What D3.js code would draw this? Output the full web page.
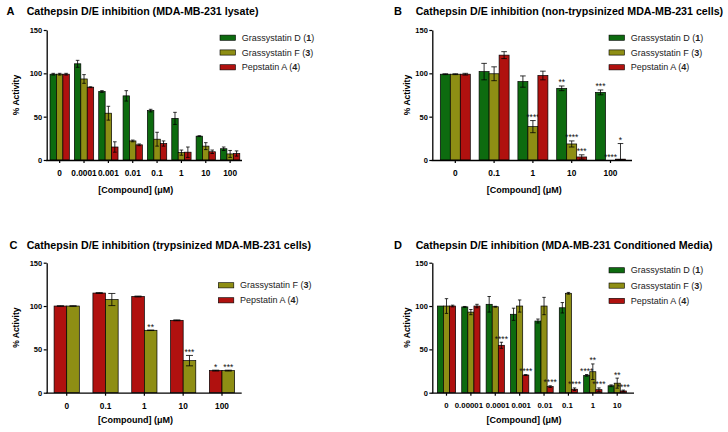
<!DOCTYPE html>
<html><head><meta charset="utf-8">
<script src="https://cdn.jsdelivr.net/npm/d3@7"></script>
<style>body{margin:0;background:#fff} svg{display:block;font-family:"Liberation Sans",Arial,sans-serif}</style>
</head><body><svg id="c" width="728" height="432"></svg>
<script>
// ---------- data ----------
const seriesKeys = ["GD", "GF", "PA"];
const seriesNames = ["Grassystatin D", "Grassystatin F", "Pepstatin A"];
const seriesNums = ["1", "3", "4"];
const yTicks = [0, 50, 100, 150];

// Panel A: lysate
const catsA = ["0", "0.0001", "0.001", "0.01", "0.1", "1", "10", "100"];
const gdA = [99, 111, 79, 74, 57, 48, 27.5, 13];
const gdAerr = [1, 4, 1, 6, 1.5, 7, 0.5, 2];
const gfA = [99, 93.5, 54, 22, 24, 8.5, 16, 7];
const gfAerr = [1, 5, 8, 1, 8, 3, 4, 4];
const paA = [99, 84, 15, 17.5, 19, 9, 9.5, 7.5];
const paAerr = [1, 0.5, 6, 1, 3, 6, 2, 3];

// Panel B: non-trypsinized cells
const catsB = ["0", "0.1", "1", "10", "100"];
const gdB = [99, 102, 90.5, 82.7, 78];
const gdBerr = [0.5, 9.5, 6.5, 2.7, 2.8];
const gfB = [99, 99.5, 38.5, 18.5, 0];
const gfBerr = [0.5, 8, 7, 3.5, 0];
const paB = [99, 121, 97.5, 3.5, 1];
const paBerr = [1, 4, 5, 2.5, 18];
const gdBstars = ["", "", "", "**", "***"];
const gfBstars = ["", "", "****", "****", "****"];
const paBstars = ["", "", "", "***", "*"];

// Panel C: trypsinized cells
const catsC = ["0", "0.1", "1", "10", "100"];
const paC = [100, 115, 111, 83.5, 25.5];
const paCerr = [0.3, 0.5, 0.5, 0.5, 0.5];
const gfC = [100, 107.5, 72, 37, 25.5];
const gfCerr = [0.3, 7, 0.3, 6, 0.5];
const paCstars = ["", "", "", "", "*"];
const gfCstars = ["", "", "**", "***", "***"];

// Panel D: conditioned media
const catsD = ["0", "0.00001", "0.0001", "0.001", "0.01", "0.1", "1", "10"];
const gdD = [100, 99, 102, 90.5, 82.7, 98, 20, 8];
const gdDerr = [0, 0.5, 9, 7, 2.3, 6, 1, 1];
const gfD = [100, 93, 99.2, 100, 100, 114.7, 24.2, 11];
const gfDerr = [8.5, 3, 0.5, 7, 10, 1, 9, 5.8];
const paD = [100, 100, 54.7, 20.4, 7, 4, 3.5, 2];
const paDerr = [1, 2, 3.5, 0.5, 1, 1.5, 2, 1];
const gdDstars = ["", "", "", "", "", "", "****", ""];
const gfDstars = ["", "", "", "", "", "", "**", "**"];
const paDstars = ["", "", "****", "****", "****", "****", "****", "****"];

// ---------- styles ----------
const colors = {GD: "#0d6b0f", GF: "#8e8e14", PA: "#b0110f"};
const FONT = '"Liberation Sans", Arial, sans-serif';
const svg = d3.select("#c");

function drawPanel(p) {
  const L = p.L;
  const g = svg.append("g");
  const x = d3.scaleBand().domain(p.cats).range([L.x0, L.x1]).paddingInner(L.pi).paddingOuter(L.pi / 2);
  const y = d3.scaleLinear().domain([0, 150]).range([L.yb, L.yt]);
  const xs = d3.scaleBand().domain(p.series.map(s => s.key)).range([0, x.bandwidth()]);
  const bw = xs.bandwidth();

  p.series.forEach(s => {
    const data = p.cats.map((c, i) => ({c, v: s.vals[i], e: s.errs[i], st: s.stars ? s.stars[i] : ""}));
    const gg = g.append("g");
    gg.selectAll("rect").data(data).join("rect")
      .attr("x", d => x(d.c) + xs(s.key)).attr("width", bw)
      .attr("y", d => y(d.v)).attr("height", d => y(0) - y(d.v))
      .attr("fill", colors[s.key]).attr("stroke", "#000").attr("stroke-width", 0.7);
    const eb = gg.selectAll("g.eb").data(data.filter(d => d.e > 0)).join("g").attr("class", "eb")
      .attr("stroke", "#000").attr("stroke-width", 0.8);
    const cx = d => x(d.c) + xs(s.key) + bw / 2;
    eb.append("line").attr("x1", cx).attr("x2", cx)
      .attr("y1", d => y(Math.max(0, d.v - d.e))).attr("y2", d => y(d.v + d.e));
    eb.append("line").attr("x1", d => cx(d) - bw * 0.28).attr("x2", d => cx(d) + bw * 0.28)
      .attr("y1", d => y(d.v + d.e)).attr("y2", d => y(d.v + d.e));
    eb.append("line").attr("x1", d => cx(d) - bw * 0.28).attr("x2", d => cx(d) + bw * 0.28)
      .attr("y1", d => y(Math.max(0, d.v - d.e))).attr("y2", d => y(Math.max(0, d.v - d.e)));
    gg.selectAll("text.st").data(data.filter(d => d.st)).join("text").attr("class", "st")
      .attr("x", cx).attr("y", d => y(d.v + d.e) - 0.5)
      .attr("text-anchor", "middle").attr("font-size", 8.5).attr("font-family", FONT)
      .attr("fill", "#111").text(d => d.st);
  });

  // y axis
  const ya = g.append("g").attr("transform", `translate(${L.ax},0)`)
    .call(d3.axisLeft(y).tickValues(yTicks).tickSize(3).tickSizeOuter(0).tickPadding(1.5));
  ya.attr("font-family", FONT).attr("font-size", 7.5).attr("font-weight", "bold");
  ya.select(".domain").attr("stroke-width", 1.3);
  ya.selectAll(".tick line").attr("stroke-width", 1.2);

  // x axis
  const xa = g.append("g").attr("transform", `translate(0,${L.yb})`)
    .call(d3.axisBottom(x).tickSize(3).tickPadding(7));
  xa.attr("font-family", FONT).attr("font-size", L.xfs || 8.3).attr("font-weight", "bold");
  xa.select(".domain").remove();
  xa.selectAll(".tick line").attr("stroke-width", 1.2);
  if (L.xdx) xa.selectAll(".tick text").attr("dx", (d, i) => L.xdx[i] || 0);
  g.append("line").attr("x1", L.ax - 0.6).attr("x2", L.xe).attr("y1", L.yb + 0.5).attr("y2", L.yb + 0.5)
    .attr("stroke", "#000").attr("stroke-width", 1.3);

  // axis titles
  g.append("text").attr("transform", `translate(${L.ylx},${L.ylc}) rotate(-90)`)
    .attr("text-anchor", "middle").attr("font-family", FONT).attr("font-size", 8.5).attr("font-weight", "bold")
    .text("% Activity");
  g.append("text").attr("x", L.xtc).attr("y", L.xty).attr("text-anchor", "middle")
    .attr("font-family", FONT).attr("font-size", 9).attr("font-weight", "bold")
    .text("[Compound] (\u03BCM)");

  // title
  g.append("text").attr("x", L.lettx).attr("y", L.ty).attr("font-family", FONT).attr("font-size", 11)
    .attr("font-weight", "bold").text(p.letter);
  g.append("text").attr("x", L.tx).attr("y", L.ty).attr("font-family", FONT).attr("font-size", 10.65)
    .attr("font-weight", "bold").text(p.title);

  // legend
  p.legend.forEach((k, i) => {
    const idx = seriesKeys.indexOf(k);
    const yy = L.ly + i * L.ldy;
    g.append("rect").attr("x", L.lx).attr("y", yy - 2.6).attr("width", 15.5).attr("height", 5.2)
      .attr("fill", colors[k]).attr("stroke", "#000").attr("stroke-width", 0.6);
    const t = g.append("text").attr("x", L.lx + 21.7).attr("y", yy + 3.1)
      .attr("font-family", FONT).attr("font-size", 9).attr("fill", "#222");
    t.append("tspan").text(seriesNames[idx] + " (");
    t.append("tspan").attr("font-weight", "bold").text(seriesNums[idx]);
    t.append("tspan").text(")");
  });
}

drawPanel({
  letter: "A", title: "Cathepsin D/E inhibition (MDA-MB-231 lysate)", cats: catsA,
  series: [
    {key: "GD", vals: gdA, errs: gdAerr},
    {key: "GF", vals: gfA, errs: gfAerr},
    {key: "PA", vals: paA, errs: paAerr}],
  legend: ["GD", "GF", "PA"],
  L: {x0: 47.5, x1: 242.3, pi: 0.207, yb: 160, yt: 30, ax: 46.7, xe: 242,
      ylx: 18.5, ylc: 95, xtc: 135.8, xty: 192.5, lettx: 6.5, tx: 26.7, ty: 14.5,
      lx: 220, ly: 37.7, ldy: 14.8}
});
drawPanel({
  letter: "B", title: "Cathepsin D/E inhibition (non-trypsinized MDA-MB-231 cells)", cats: catsB,
  series: [
    {key: "GD", vals: gdB, errs: gdBerr, stars: gdBstars},
    {key: "GF", vals: gfB, errs: gfBerr, stars: gfBstars},
    {key: "PA", vals: paB, errs: paBerr, stars: paBstars}],
  legend: ["GD", "GF", "PA"],
  L: {x0: 435.9, x1: 629.9, pi: 0.227, yb: 160, yt: 30, ax: 432.3, xe: 632,
      ylx: 409.5, ylc: 95, xtc: 524.2, xty: 192.5, lettx: 394, tx: 415.7, ty: 14.5,
      lx: 609, ly: 37.7, ldy: 14.8}
});
drawPanel({
  letter: "C", title: "Cathepsin D/E inhibition (trypsinized MDA-MB-231 cells)", cats: catsC,
  series: [
    {key: "PA", vals: paC, errs: paCerr, stars: paCstars},
    {key: "GF", vals: gfC, errs: gfCerr, stars: gfCstars}],
  legend: ["GF", "PA"],
  L: {x0: 47.3, x1: 241.4, pi: 0.35, yb: 392.7, yt: 262.7, ax: 46.7, xe: 241.7,
      ylx: 19, ylc: 327.7, xtc: 135.5, xty: 423, lettx: 9.5, tx: 26.7, ty: 248.5,
      lx: 218.3, ly: 285.3, ldy: 15}
});
drawPanel({
  letter: "D", title: "Cathepsin D/E inhibition (MDA-MB-231 Conditioned Media)", cats: catsD,
  series: [
    {key: "GD", vals: gdD, errs: gdDerr, stars: gdDstars},
    {key: "GF", vals: gfD, errs: gfDerr, stars: gfDstars},
    {key: "PA", vals: paD, errs: paDerr, stars: paDstars}],
  legend: ["GD", "GF", "PA"],
  L: {x0: 434.3, x1: 629.4, pi: 0.25, yb: 392.7, yt: 262.7, ax: 432.3, xe: 634,
      ylx: 409.5, ylc: 327.7, xtc: 524, xty: 423, lettx: 394, tx: 415.7, ty: 248.5,
      lx: 609, ly: 270.3, ldy: 15.3, xfs: 7.8, xdx: [0, -2, 2.5, 1.5, 1, -1, 0, 0]}
});
</script></body></html>
